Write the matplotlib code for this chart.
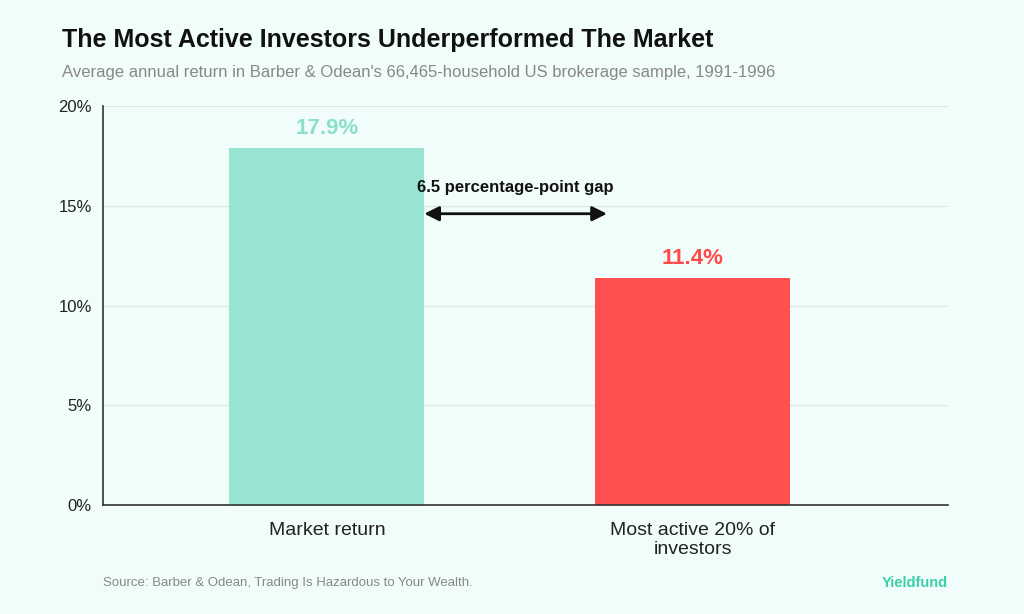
import numpy as np
import matplotlib.pyplot as plt

plt.rcParams['font.family'] = ['Liberation Sans', 'DejaVu Sans']

categories = ["Market return", "Most active 20% of\ninvestors"]
returns = [17.9, 11.4]
bar_colors = ["#98e5d4", "#ff5050"]
label_colors = ["#8adfcb", "#ff4a4a"]
yticks = [0, 5, 10, 15, 20]

bg = "#f0fdfb"
fig = plt.figure(figsize=[10.24, 6.14], dpi=100, facecolor=bg)
ax = fig.add_axes([103/1024, 1-505/614, 845/1024, 399/614], facecolor=bg)

x = np.arange(len(categories))
ax.bar(x, returns, width=0.533, color=bar_colors, zorder=2)
for xi, v, c in zip(x, returns, label_colors):
    ax.text(xi, v + 0.45, f"{v}%", ha="center", va="bottom", fontsize=16,
            fontweight="bold", color=c)

# gap arrow
ax.annotate("", xy=(0.266, 14.6), xytext=(0.765, 14.6),
            arrowprops=dict(arrowstyle="<|-|>", color="#111111", lw=2,
                            mutation_scale=22, shrinkA=0, shrinkB=0))
ax.text(0.515, 15.9, f"{returns[0]-returns[1]:.1f} percentage-point gap",
        ha="center", va="center", fontsize=12, fontweight="bold", color="#111111")

ax.set_xlim(-0.612, 1.697)
ax.set_ylim(0, 20)
ax.set_yticks(yticks)
ax.set_yticklabels([f"{t}%" for t in yticks], fontsize=12, color="#222222")
ax.set_xticks(x)
ax.set_xticklabels(categories, fontsize=14, color="#222222")
ax.tick_params(axis="both", length=0, pad=8)
ax.tick_params(axis="x", pad=12)
ax.grid(axis="y", color="#dde8e6", lw=0.9, zorder=0)
for s in ["top", "right"]:
    ax.spines[s].set_visible(False)
for s in ["left", "bottom"]:
    ax.spines[s].set_color("#333333")
    ax.spines[s].set_linewidth(1.2)

fig.text(62/1024, 1-40/614, "The Most Active Investors Underperformed The Market",
         fontsize=18, fontweight="bold", color="#111111", va="center")
fig.text(62/1024, 1-72/614,
         "Average annual return in Barber & Odean's 66,465-household US brokerage sample, 1991-1996",
         fontsize=12, color="#888888", va="center")
fig.text(103/1024, 1-583/614, "Source: Barber & Odean, Trading Is Hazardous to Your Wealth.",
         fontsize=9.5, color="#888888", va="center")
fig.text(948/1024, 1-583/614, "Yieldfund", fontsize=10.5, fontweight="bold",
         color="#3ccfa9", va="center", ha="right")

plt.savefig("out.png", dpi=100, facecolor=bg)
